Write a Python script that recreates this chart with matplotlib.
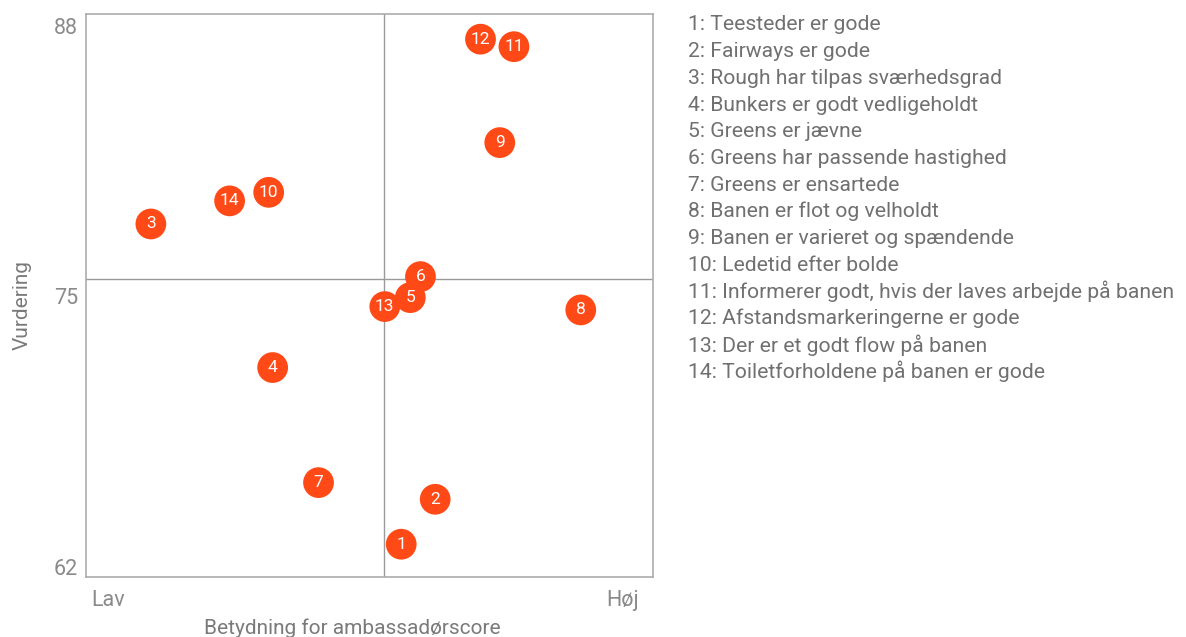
import matplotlib
matplotlib.use("Agg")
from matplotlib import pyplot as plt

plt.rcParams['font.family'] = ['Roboto', 'DejaVu Sans']

# statements and scores (x: importance 0-100, y: rating)
labels = [
    "Teesteder er gode",
    "Fairways er gode",
    "Rough har tilpas sværhedsgrad",
    "Bunkers er godt vedligeholdt",
    "Greens er jævne",
    "Greens har passende hastighed",
    "Greens er ensartede",
    "Banen er flot og velholdt",
    "Banen er varieret og spændende",
    "Ledetid efter bolde",
    "Informerer godt, hvis der laves arbejde på banen",
    "Afstandsmarkeringerne er gode",
    "Der er et godt flow på banen",
    "Toiletforholdene på banen er gode",
]
importance = [55.6, 61.6, 11.4, 32.9, 57.2, 59.0, 41.0, 87.3, 73.0, 32.2, 75.5, 69.6, 52.7, 25.3]
rating = [63.08, 65.24, 78.47, 71.57, 74.93, 75.94, 66.04, 74.34, 82.38, 79.99, 86.99, 87.35, 74.50, 79.58]

x_mid = 52.6
y_mid = 75.81
x_range = (0, 100)
y_range = (61.49, 88.56)
y_ticks = [62, 75, 88]

dot_color = '#FF4A17'
text_gray = '#8a8a8a'

fig = plt.figure(figsize=(11.86, 6.37), dpi=100)
ax = fig.add_axes([86.3/1186, 1-577.3/637, 566.4/1186, 563.3/637])

ax.axvline(x_mid, color='#9a9a9a', lw=1.0, zorder=1)
ax.axhline(y_mid, color='#9a9a9a', lw=1.0, zorder=1)

# lower points on top
order = sorted(range(len(labels)), key=lambda i: -rating[i])
for z, i in enumerate(order):
    ax.scatter(importance[i], rating[i], s=490, color=dot_color, edgecolors='none', zorder=3 + z)
    ax.text(importance[i], rating[i], str(i + 1), color='white', fontsize=12.5,
            ha='center', va='center', zorder=3 + z)

ax.set_xlim(*x_range)
ax.set_ylim(*y_range)
ax.set_yticks(y_ticks)
ax.set_yticklabels([str(t) for t in y_ticks])
ax.set_xticks([])
ax.tick_params(axis='y', length=0, labelsize=15.5, labelcolor=text_gray, pad=6)
for sp in ax.spines.values():
    sp.set_color('#ababab')
    sp.set_linewidth(1.2)

ax.text(0.008, -0.022, "Lav", transform=ax.transAxes, ha='left', va='top', fontsize=15.5, color=text_gray)
ax.text(0.975, -0.022, "Høj", transform=ax.transAxes, ha='right', va='top', fontsize=15.5, color=text_gray)

fig.text(352/1186, 1-628/637, "Betydning for ambassadørscore", ha='center', va='center',
         fontsize=15, color='#7a7a7a')
fig.text(22/1186, 1-305/637, "Vurdering", ha='center', va='center', rotation=90,
         fontsize=15, color='#7a7a7a')

# legend list
for i, lab in enumerate(labels):
    fig.text(688/1186, 1-(25 + i*26.67)/637, f"{i+1}: {lab}", ha='left', va='center',
             fontsize=15.2, color='#707070')

fig.savefig("out.png", dpi=100)
